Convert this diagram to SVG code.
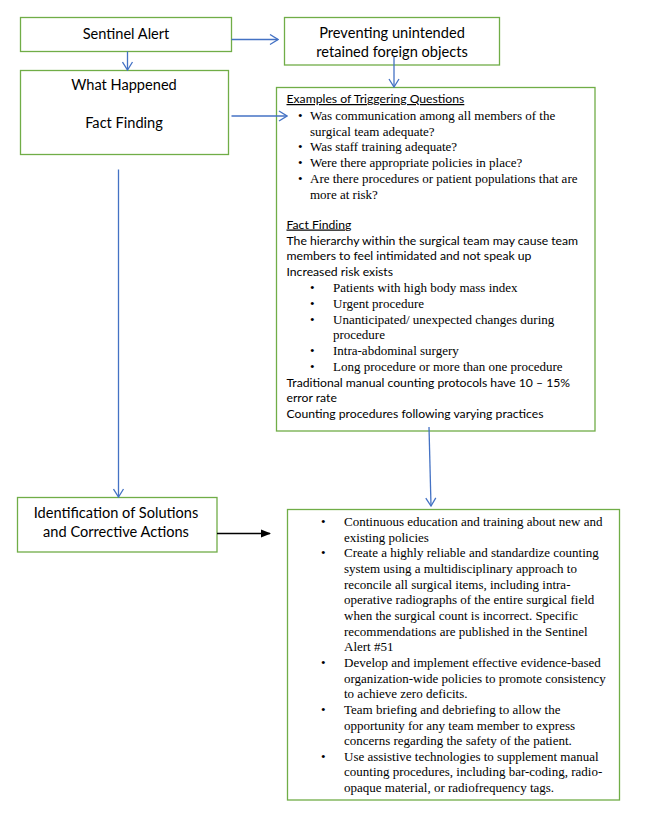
<svg xmlns="http://www.w3.org/2000/svg" width="646" height="818" viewBox="0 0 646 818">
<defs>
<style>
.box{fill:#fff;stroke:#70AD47;stroke-width:1.3}
.sans{font-family:Lato,"Open Sans","Liberation Sans",sans-serif;fill:#000}
.big{font-size:14.6px}
.sm{font-size:12.2px}
.ser{font-family:"Liberation Serif","Times New Roman",serif;font-size:13px;fill:#000}
.blue{stroke:#4472C4;stroke-width:1.3;fill:none}
.blk{stroke:#000;stroke-width:1.3;fill:none}
</style>
<marker id="ob" viewBox="0 0 10 12" refX="9" refY="6" markerWidth="10" markerHeight="12" markerUnits="userSpaceOnUse" orient="auto">
<path d="M1,1 L9,6 L1,11" fill="none" stroke="#4472C4" stroke-width="1.3"/>
</marker>
<marker id="fb" viewBox="0 0 10 10" refX="9" refY="5" markerWidth="10" markerHeight="10" markerUnits="userSpaceOnUse" orient="auto">
<path d="M0,1 L10,5 L0,9 Z" fill="#000"/>
</marker>
</defs>
<rect width="646" height="818" fill="#fff"/>

<g id="sentinel-alert">
<rect class="box" x="20.5" y="17.5" width="211" height="34"/>
<text class="sans big" x="126" y="38.5" text-anchor="middle">Sentinel Alert</text>
</g>

<g id="preventing">
<rect class="box" x="284.5" y="17.5" width="215" height="47.5"/>
<text class="sans big" x="392" y="37.5" text-anchor="middle">Preventing unintended</text>
<text class="sans big" x="392" y="56.5" text-anchor="middle">retained foreign objects</text>
</g>

<g id="what-happened">
<rect class="box" x="20.5" y="70.5" width="208" height="84"/>
<text class="sans big" x="124" y="90" text-anchor="middle">What Happened</text>
<text class="sans big" x="124" y="128" text-anchor="middle">Fact Finding</text>
</g>

<g id="examples">
<rect class="box" x="276.5" y="87.5" width="318.5" height="343.5"/>
<text class="sans sm" x="286.5" y="103" text-decoration="underline">Examples of Triggering Questions</text>
<g class="ser">
<text x="298" y="120">•</text><text x="310" y="120">Was communication among all members of the</text>
<text x="310" y="135.5">surgical team adequate?</text>
<text x="298" y="151">•</text><text x="310" y="151">Was staff training adequate?</text>
<text x="298" y="167">•</text><text x="310" y="167">Were there appropriate policies in place?</text>
<text x="298" y="183">•</text><text x="310" y="183">Are there procedures or patient populations that are</text>
<text x="310" y="199">more at risk?</text>
</g>
<text class="sans sm" x="286.5" y="228.5" text-decoration="underline">Fact Finding</text>
<text class="sans sm" x="286.5" y="244.5">The hierarchy within the surgical team may cause team</text>
<text class="sans sm" x="286.5" y="260">members to feel intimidated and not speak up</text>
<text class="sans sm" x="286.5" y="275.5">Increased risk exists</text>
<g class="ser">
<text x="310" y="292">•</text><text x="333" y="292">Patients with high body mass index</text>
<text x="310" y="307.5">•</text><text x="333" y="307.5">Urgent procedure</text>
<text x="310" y="323.5">•</text><text x="333" y="323.5">Unanticipated/ unexpected changes during</text>
<text x="333" y="339">procedure</text>
<text x="310" y="355">•</text><text x="333" y="355">Intra-abdominal surgery</text>
<text x="310" y="370.5">•</text><text x="333" y="370.5">Long procedure or more than one procedure</text>
</g>
<text class="sans sm" x="286.5" y="386.5">Traditional manual counting protocols have 10 – 15%</text>
<text class="sans sm" x="286.5" y="402">error rate</text>
<text class="sans sm" x="286.5" y="417.5">Counting procedures following varying practices</text>
</g>

<g id="identification">
<rect class="box" x="17.5" y="497.5" width="199.5" height="54.5"/>
<text class="sans big" x="116" y="518" text-anchor="middle">Identification of Solutions</text>
<text class="sans big" x="116" y="537" text-anchor="middle">and Corrective Actions</text>
</g>

<g id="solutions">
<rect class="box" x="287.5" y="509.5" width="332" height="290.5"/>
<g class="ser">
<text x="321" y="526">•</text><text x="344" y="526">Continuous education and training about new and</text>
<text x="344" y="541.6">existing policies</text>
<text x="321" y="557.3">•</text><text x="344" y="557.3">Create a highly reliable and standardize counting</text>
<text x="344" y="573">system using a multidisciplinary approach to</text>
<text x="344" y="588.6">reconcile all surgical items, including intra-</text>
<text x="344" y="604.3">operative radiographs of the entire surgical field</text>
<text x="344" y="620">when the surgical count is incorrect. Specific</text>
<text x="344" y="635.6">recommendations are published in the Sentinel</text>
<text x="344" y="651.2">Alert #51</text>
<text x="321" y="666.9">•</text><text x="344" y="666.9">Develop and implement effective evidence-based</text>
<text x="344" y="682.5">organization-wide policies to promote consistency</text>
<text x="344" y="698.2">to achieve zero deficits.</text>
<text x="321" y="713.8">•</text><text x="344" y="713.8">Team briefing and debriefing to allow the</text>
<text x="344" y="729.5">opportunity for any team member to express</text>
<text x="344" y="745.1">concerns regarding the safety of the patient.</text>
<text x="321" y="760.8">•</text><text x="344" y="760.8">Use assistive technologies to supplement manual</text>
<text x="344" y="776.4">counting procedures, including bar-coding, radio-</text>
<text x="344" y="792">opaque material, or radiofrequency tags.</text>
</g>
</g>

<g id="connectors">
<line class="blue" x1="231.5" y1="39.5" x2="278" y2="39.5" marker-end="url(#ob)"/>
<line class="blue" x1="127.5" y1="51.5" x2="127.5" y2="70" marker-end="url(#ob)"/>
<line class="blue" x1="394" y1="57" x2="394" y2="87" marker-end="url(#ob)"/>
<line class="blue" x1="231.5" y1="116" x2="287" y2="116" marker-end="url(#ob)"/>
<line class="blue" x1="118.5" y1="169.5" x2="118.5" y2="497" marker-end="url(#ob)"/>
<line class="blue" x1="429" y1="427" x2="431" y2="506" marker-end="url(#ob)"/>
<line class="blk" x1="217" y1="533.5" x2="270" y2="533.5" marker-end="url(#fb)"/>
</g>
</svg>
